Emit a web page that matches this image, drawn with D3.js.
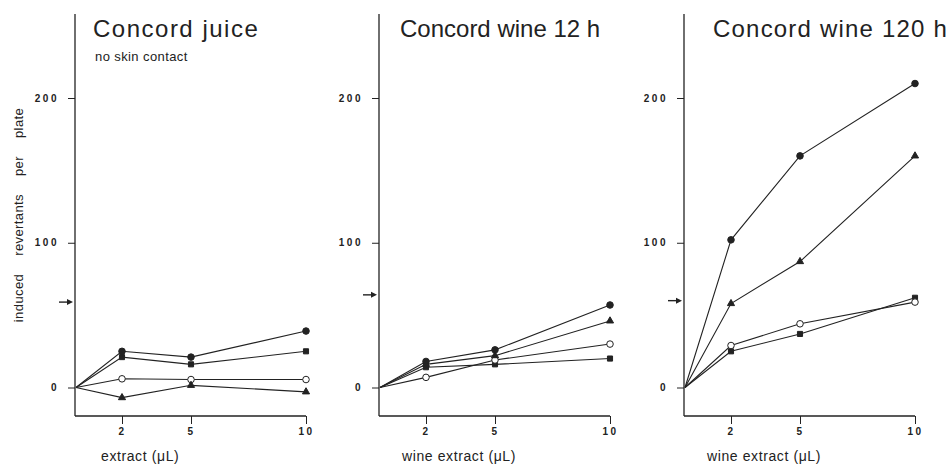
<!DOCTYPE html>
<html lang="en">
<head>
    <meta charset="UTF-8">
    <title>Concord juice and wine mutagenicity</title>
    <style>
        body, html {
            margin: 0;
            padding: 0;
            background-color: #fff;
        }
        svg text {
            font-family: "Liberation Sans", Arial, sans-serif;
            fill: #222;
        }
        .tick text {
            font-size: 10px;
            font-weight: bold;
            letter-spacing: 2.5px;
        }
    </style>
</head>
<body>
    <div id="chart"></div>

    <script src="https://d3js.org/d3.v7.min.js"></script>
    <script>
        // doses and panel texts
        const doses = [0, 2, 5, 10];
        const xTicks = [2, 5, 10];
        const yTicks = [0, 100, 200];
        const titles = ["Concord juice", "Concord wine 12 h", "Concord wine 120 h"];
        const subtitles = ["no skin contact", "", ""];
        const xLabels = ["extract (\u03bcL)", "wine extract (\u03bcL)", "wine extract (\u03bcL)"];
        const arrowLevel = [59, 64, 60];   // spontaneous revertants marker

        // induced revertants per plate, one array per strain symbol
        const filledCircle = [
            [0, 25, 21, 39],
            [0, 18, 26, 57],
            [0, 102, 160, 210]
        ];
        const filledSquare = [
            [0, 21, 16, 25],
            [0, 14, 16, 20],
            [0, 25, 37, 62]
        ];
        const openCircle = [
            [0, 6, 5.5, 5.5],
            [0, 7, 19, 30],
            [0, 29, 44, 59]
        ];
        const filledTriangle = [
            [0, -7, 1.5, -3],
            [0, 16, 22, 46],
            [0, 58, 87, 160]
        ];

        const series = [
            { values: filledCircle, symbol: d3.symbolCircle, size: 34, fill: "#222" },
            { values: filledSquare, symbol: d3.symbolSquare, size: 26, fill: "#222" },
            { values: openCircle, symbol: d3.symbolCircle, size: 34, fill: "#fff" },
            { values: filledTriangle, symbol: d3.symbolTriangle, size: 22, fill: "#222" }
        ];

        const width = 950, height = 465;
        const panelLeft = [75, 379, 684];
        const titleDx = [18, 21, 29];
        const titleSpacing = [1.5, 0, 1.2];
        const axisTop = 14, axisBottom = 416;

        const svg = d3.select("#chart")
            .append("svg")
            .attr("width", width)
            .attr("height", height);

        const y = d3.scaleLinear().domain([0, 200]).range([387.5, 98]);

        titles.forEach((title, p) => {
            const left = panelLeft[p];
            const x = d3.scaleLinear().domain([0, 10]).range([left + 1, left + 231]);
            const g = svg.append("g");

            // axis lines
            g.append("line")
                .attr("x1", left).attr("x2", left)
                .attr("y1", axisTop).attr("y2", axisBottom)
                .attr("stroke", "#222").attr("stroke-width", 1.3);
            g.append("line")
                .attr("x1", left).attr("x2", x(10))
                .attr("y1", axisBottom).attr("y2", axisBottom)
                .attr("stroke", "#222").attr("stroke-width", 1.3);

            const yAxis = g.append("g")
                .attr("transform", `translate(${left},0)`)
                .call(d3.axisLeft(y).tickValues(yTicks).tickSize(7).tickPadding(9));
            yAxis.select(".domain").remove();

            const xAxis = g.append("g")
                .attr("transform", `translate(0,${axisBottom})`)
                .call(d3.axisBottom(x).tickValues(xTicks).tickSize(8).tickPadding(4));
            xAxis.select(".domain").remove();

            g.selectAll(".tick line").attr("stroke", "#222");
            g.selectAll(".tick text").attr("fill", "#222");

            // arrow
            const ay = y(arrowLevel[p]);
            g.append("line")
                .attr("x1", left - 16).attr("x2", left - 6)
                .attr("y1", ay).attr("y2", ay)
                .attr("stroke", "#222").attr("stroke-width", 1.4);
            g.append("path")
                .attr("d", `M${left - 2},${ay} L${left - 8},${ay - 3} L${left - 8},${ay + 3} Z`)
                .attr("fill", "#222");

            // series lines
            const line = d3.line()
                .x((d, i) => x(doses[i]))
                .y(d => y(d));

            series.forEach(s => {
                g.append("path")
                    .datum(s.values[p])
                    .attr("d", line)
                    .attr("fill", "none")
                    .attr("stroke", "#222")
                    .attr("stroke-width", 1.1);
            });

            series.forEach(s => {
                g.selectAll(null)
                    .data(s.values[p].slice(1))
                    .join("path")
                    .attr("transform", (d, i) => `translate(${x(doses[i + 1])},${y(d)})`)
                    .attr("d", d3.symbol().type(s.symbol).size(s.size))
                    .attr("fill", s.fill)
                    .attr("stroke", "#222")
                    .attr("stroke-width", 1);
            });

            // texts
            g.append("text")
                .attr("x", left + titleDx[p])
                .attr("y", 37)
                .attr("font-size", "24px")
                .attr("letter-spacing", titleSpacing[p] + "px")
                .text(title);

            if (subtitles[p]) {
                g.append("text")
                    .attr("x", left + 20)
                    .attr("y", 61)
                    .attr("font-size", "13px")
                    .attr("letter-spacing", "0.4px")
                    .text(subtitles[p]);
            }

            g.append("text")
                .attr("x", x(0) + (p === 0 ? 25 : 22))
                .attr("y", 461)
                .attr("font-size", "14px")
                .attr("letter-spacing", "0.6px")
                .text(xLabels[p]);
        });

        // y axis title
        svg.append("text")
            .attr("transform", "translate(23,215) rotate(-90)")
            .attr("text-anchor", "middle")
            .attr("font-size", "13px")
            .attr("word-spacing", "14px")
            .attr("letter-spacing", "0.4px")
            .text("induced revertants per plate");
    </script>
</body>
</html>
